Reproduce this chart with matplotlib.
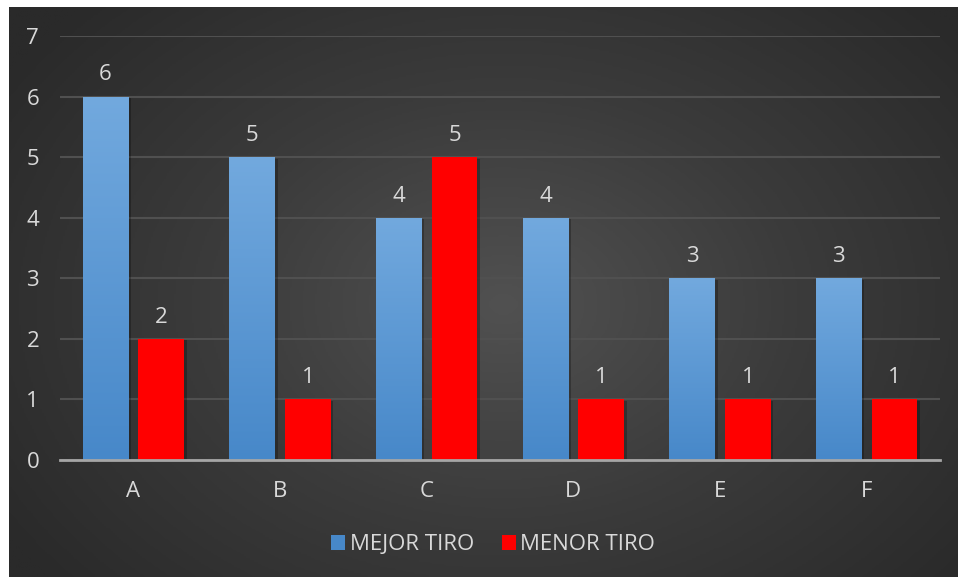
import numpy as np
import matplotlib
matplotlib.use("Agg")
import matplotlib.pyplot as plt
from matplotlib.patches import Rectangle
from matplotlib.colors import LinearSegmentedColormap
import matplotlib.patheffects as pe

categories = ["A", "B", "C", "D", "E", "F"]
mejor_tiro = [6, 5, 4, 4, 3, 3]
menor_tiro = [2, 1, 5, 1, 1, 1]
series_names = ["MEJOR TIRO", "MENOR TIRO"]
y_ticks = [0, 1, 2, 3, 4, 5, 6, 7]

plt.rcParams["font.family"] = ["Open Sans", "DejaVu Sans"]
TEXT = "#d9d9d9"
BLUE_TOP = "#72a9de"
BLUE_BOT = "#4788c9"
RED = "#ff0000"
FS = 16

fig = plt.figure(figsize=(9.6, 5.77), dpi=100, facecolor="white")

# dark chart area with a soft radial highlight
bg_ax = fig.add_axes([9 / 960, 0, 949 / 960, 570 / 577])
bg_ax.set_axis_off()
h, w = 300, 500
yy, xx = np.mgrid[0:h, 0:w]
cx, cy = w * 0.52, h * 0.52
r = np.sqrt(((xx - cx) / (w * 0.62)) ** 2 + ((yy - cy) / (h * 0.75)) ** 2)
r = np.clip(r, 0, 1)
bg_cmap = LinearSegmentedColormap.from_list("bg", ["#515151", "#3b3b3b", "#2a2a2a"])
bg_ax.imshow(r, cmap=bg_cmap, vmin=0, vmax=1, aspect="auto", extent=[0, 1, 0, 1])
bg_ax.set_xlim(0, 1)
bg_ax.set_ylim(0, 1)

ax = fig.add_axes([60 / 960, 1 - 460 / 577, 880 / 960, 424 / 577])
ax.patch.set_alpha(0)
ax.set_xlim(-0.5, len(categories) - 0.5)
ax.set_ylim(0, 7)

bw = 0.31
off = 0.19
x = np.arange(len(categories))
blue_cmap = LinearSegmentedColormap.from_list("blue", [BLUE_BOT, BLUE_TOP])
grad = np.linspace(0, 1, 256).reshape(-1, 1)
shadow = [pe.SimplePatchShadow(offset=(2, -1), shadow_rgbFace="black", alpha=0.25), pe.Normal()]

for i, v in enumerate(mejor_tiro):
    x0 = x[i] - off - bw / 2
    rect = Rectangle((x0, 0), bw, v, facecolor=BLUE_BOT, edgecolor="none", zorder=3,
                     path_effects=shadow)
    ax.add_patch(rect)
    im = ax.imshow(grad, cmap=blue_cmap, vmin=0, vmax=1,
                   origin="lower", extent=[x0, x0 + bw, 0, v], aspect="auto", zorder=3.5)
    im.set_clip_path(rect)
    ax.annotate(str(v), (x[i] - off, v), xytext=(0, 8), textcoords="offset points",
                ha="center", va="bottom", color=TEXT, fontsize=FS)

for i, v in enumerate(menor_tiro):
    ax.bar(x[i] + off, v, bw, color=RED, zorder=3, path_effects=shadow)
    ax.annotate(str(v), (x[i] + off, v), xytext=(0, 8), textcoords="offset points",
                ha="center", va="bottom", color=TEXT, fontsize=FS)

ax.set_xlim(-0.5, len(categories) - 0.5)
ax.set_ylim(0, 7)
ax.set_yticks(y_ticks)
ax.set_xticks(x)
ax.set_xticklabels(categories)
ax.yaxis.grid(True, color="#505050", linewidth=1.5, zorder=0)
ax.set_axisbelow(True)
for s in ["top", "right", "left"]:
    ax.spines[s].set_visible(False)
ax.spines["bottom"].set_color("#a6a6a6")
ax.spines["bottom"].set_linewidth(2)
ax.spines["bottom"].set_zorder(5)
ax.tick_params(axis="both", length=0, colors=TEXT, labelsize=FS)
ax.tick_params(axis="x", pad=15)
ax.tick_params(axis="y", pad=15)

handles = [Rectangle((0, 0), 1, 1, facecolor=BLUE_BOT, edgecolor="none"),
           Rectangle((0, 0), 1, 1, facecolor=RED, edgecolor="none")]
leg = fig.legend(handles, series_names, loc="center", bbox_to_anchor=(493 / 960, 1 - 545 / 577),
                 ncol=2, frameon=False, fontsize=FS, handlelength=0.65, handleheight=0.65,
                 handletextpad=0.2, columnspacing=1.25)
for t in leg.get_texts():
    t.set_color(TEXT)

fig.savefig("out.png", dpi=100, facecolor="white")
